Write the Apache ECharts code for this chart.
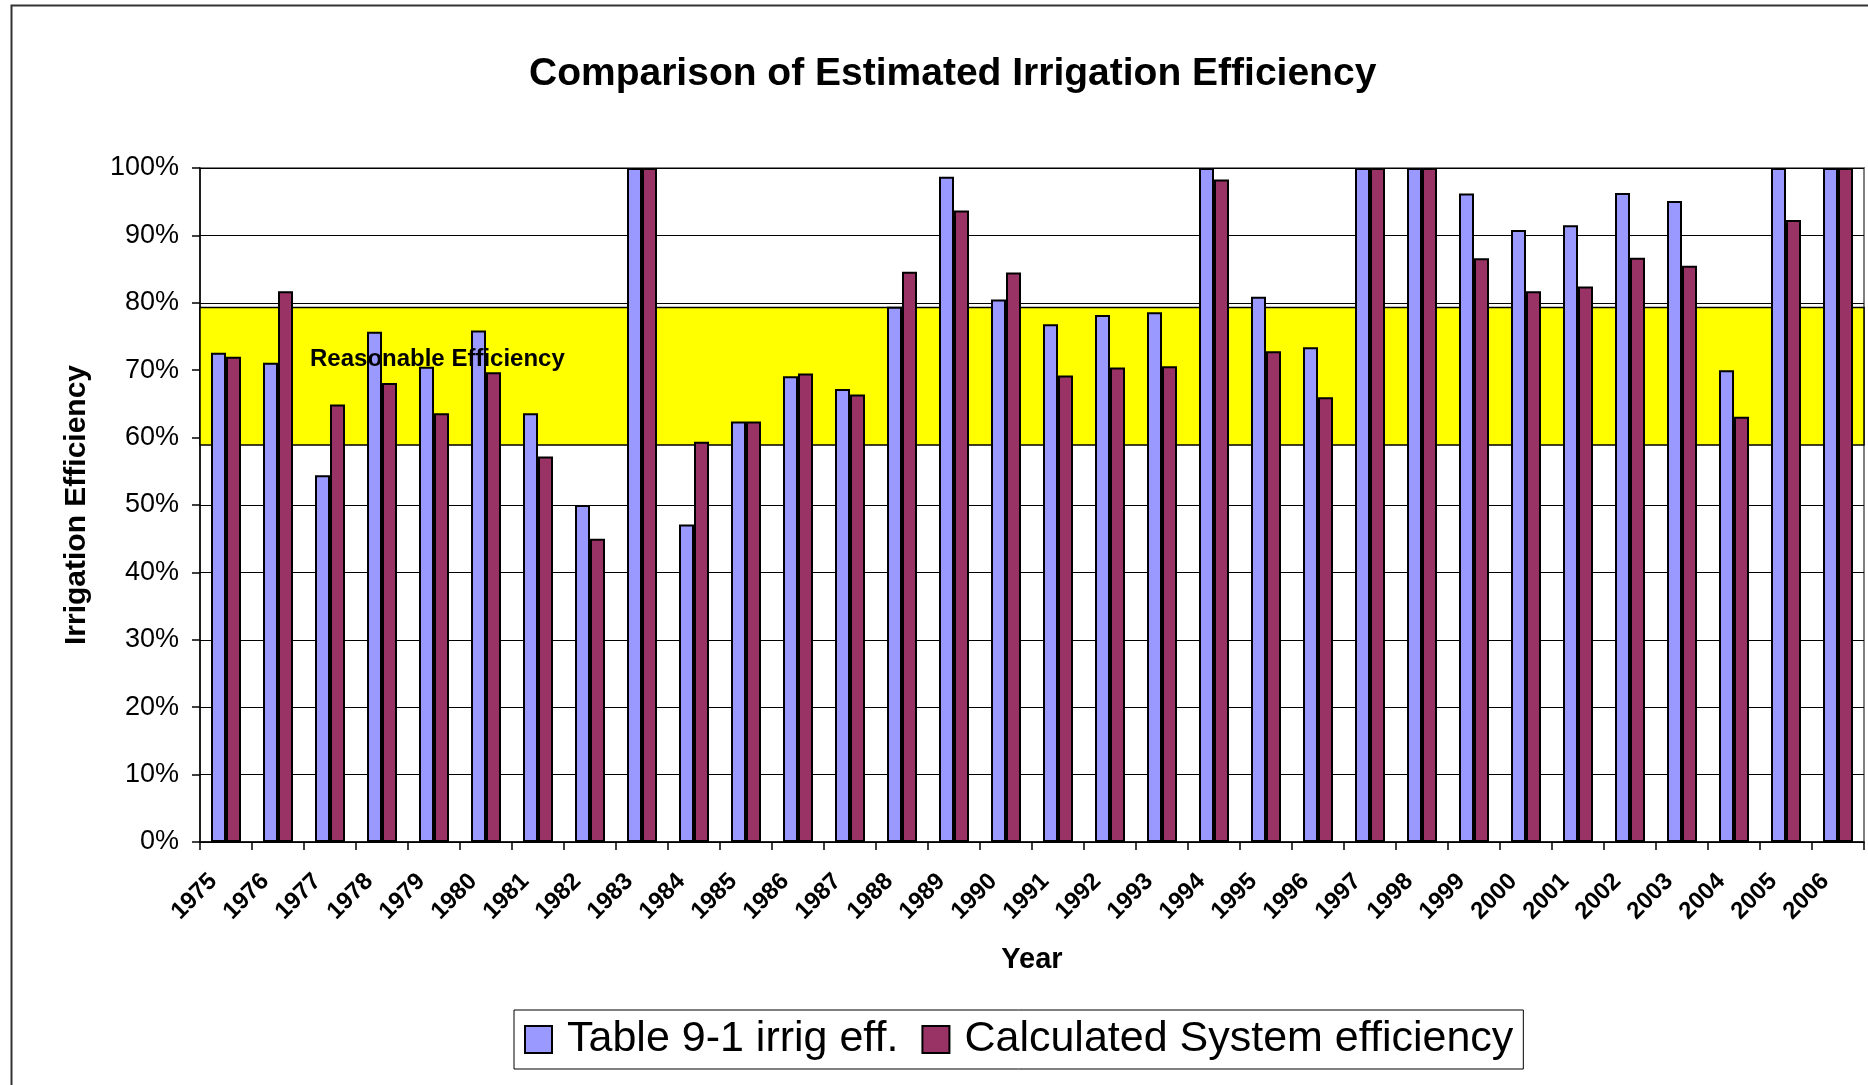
<!DOCTYPE html>
<html>
<head>
<meta charset="utf-8">
<script src="https://cdn.jsdelivr.net/npm/echarts@6/dist/echarts.min.js"></script>
<style>
html,body{margin:0;padding:0;background:#fff;}
#chart{width:1868px;height:1085px;}
</style>
</head>
<body>
<div id="chart"></div>
<script>
var years = ['1975','1976','1977','1978','1979','1980','1981','1982','1983','1984','1985','1986','1987','1988','1989','1990','1991','1992','1993','1994','1995','1996','1997','1998','1999','2000','2001','2002','2003','2004','2005','2006'];
var tableEff = [72.6, 71.1, 54.4, 75.7, 70.5, 75.9, 63.6, 50.0, 100, 47.1, 62.4, 69.1, 67.2, 79.4, 98.7, 80.5, 76.8, 78.2, 78.6, 100, 80.9, 73.4, 100, 100, 96.2, 90.8, 91.5, 96.3, 95.1, 70.0, 100, 100];
var calcEff = [72.0, 81.7, 64.9, 68.1, 63.6, 69.7, 57.2, 45.0, 100, 59.4, 62.4, 69.5, 66.4, 84.6, 93.7, 84.5, 69.2, 70.4, 70.6, 98.3, 72.8, 66.0, 100, 100, 86.6, 81.7, 82.4, 86.7, 85.5, 63.1, 92.3, 100];
var bandRange = [58.9, 79.3];
var yTicks = [0, 10, 20, 30, 40, 50, 60, 70, 80, 90, 100];

var FONT = 'Liberation Sans, Arial, sans-serif';
var chart = echarts.init(document.getElementById('chart'), null, {renderer: 'canvas'});

var option = {
  backgroundColor: '#ffffff',
  animation: false,
  title: {
    text: 'Comparison of Estimated Irrigation Efficiency',
    left: 524,
    top: 50,
    textStyle: {fontFamily: FONT, fontSize: 39, fontWeight: 'bold', color: '#000'}
  },
  legend: {
    data: ['Table 9-1 irrig eff.', 'Calculated System efficiency'],
    left: 514,
    top: 1010,
    orient: 'horizontal',
    itemWidth: 27,
    itemHeight: 27,
    itemGap: 23,
    padding: [8, 10, 8, 10],
    borderColor: '#000',
    borderWidth: 1,
    icon: 'rect',
    textStyle: {fontFamily: FONT, fontSize: 43, color: '#000', padding: [0, 0, 0, 10]}
  },
  grid: {
    left: 200, right: 4, top: 168, bottom: 243,
    show: true, borderColor: '#808080', borderWidth: 2, backgroundColor: 'transparent'
  },
  xAxis: {
    type: 'category',
    data: years,
    name: 'Year',
    nameLocation: 'middle',
    nameGap: 103,
    nameTextStyle: {fontFamily: FONT, fontSize: 29, fontWeight: 'bold', color: '#000'},
    axisLine: {lineStyle: {color: '#000', width: 1.5}},
    axisTick: {show: true, length: 8, lineStyle: {color: '#000', width: 1.5}},
    axisLabel: {interval: 0, rotate: 45, margin: 23, padding: [0, 18, 0, 0], fontFamily: FONT, fontSize: 24, fontWeight: 'bold', color: '#000'},
    splitLine: {show: false}
  },
  yAxis: {
    type: 'value',
    min: 0, max: 100, interval: 10,
    name: 'Irrigation Efficiency',
    nameLocation: 'middle',
    nameGap: 108,
    nameTextStyle: {fontFamily: FONT, fontSize: 30, fontWeight: 'bold', color: '#000'},
    axisLine: {show: true, lineStyle: {color: '#000', width: 1.5}},
    axisTick: {show: true, length: 8, lineStyle: {color: '#000', width: 1.5}},
    axisLabel: {margin: 21, fontFamily: FONT, fontSize: 27, color: '#000', formatter: function (v) { return yTicks.indexOf(v) >= 0 ? v + '%' : ''; }},
    splitLine: {show: true, lineStyle: {color: '#000', width: 1}}
  },
  series: [
    {
      name: 'band',
      type: 'line',
      data: [],
      z: -1,
      silent: true,
      markArea: {
        silent: true,
        itemStyle: {color: '#FFFF00', borderColor: '#000', borderWidth: 1.5},
        data: [[{yAxis: bandRange[1]}, {yAxis: bandRange[0]}]]
      }
    },
    {
      name: 'Table 9-1 irrig eff.',
      type: 'bar',
      data: tableEff,
      barWidth: 15,
      barGap: '0%',
      itemStyle: {color: '#9999FF', borderColor: '#000', borderWidth: 2}
    },
    {
      name: 'Calculated System efficiency',
      type: 'bar',
      data: calcEff,
      barWidth: 15,
      barGap: '0%',
      itemStyle: {color: '#993366', borderColor: '#000', borderWidth: 2}
    }
  ],
  graphic: [
    {
      type: 'rect',
      silent: true,
      z: 100,
      shape: {x: 11.5, y: 5.5, width: 2000, height: 2000},
      style: {fill: 'none', stroke: '#333', lineWidth: 2}
    },
    {
      type: 'text',
      z: 100,
      left: 310,
      top: 347,
      style: {text: 'Reasonable Efficiency', fontFamily: FONT, fontSize: 24, fontWeight: 'bold', fill: '#000'}
    }
  ]
};
chart.setOption(option);
</script>
</body>
</html>
